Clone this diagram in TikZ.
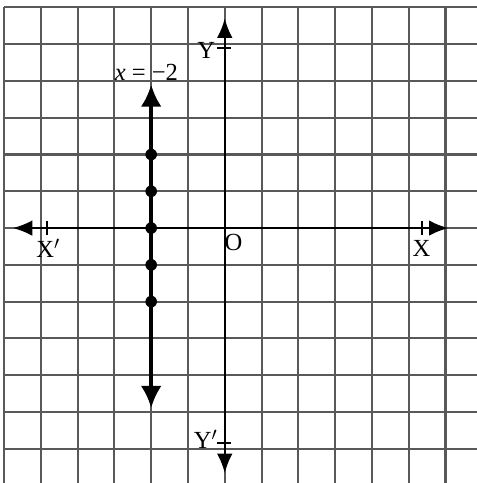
\documentclass[tikz,border=0pt]{standalone}
\usepackage{fontspec}
\setmainfont{Liberation Serif}
\usetikzlibrary{arrows.meta}
\begin{document}
\begin{tikzpicture}[
  gridline/.style={line width=1.6pt,color=black!65},
  axis/.style={line width=1.5pt,black,{Latex[length=15pt,width=12pt]}-{Latex[length=15pt,width=12pt]}},
  mainline/.style={line width=2.8pt,black,{Latex[length=17pt,width=16pt]}-{Latex[length=17pt,width=16pt]}},
  tick/.style={line width=1.5pt,black},
  lbl/.style={font=\fontsize{19}{22}\selectfont,inner sep=0pt},
  dot/.style={circle,fill=black,inner sep=0pt,minimum size=9pt}
]
\useasboundingbox (-6.11,-6.93) rectangle (6.85,6.2);
\fill[white] (-6.11,-6.93) rectangle (6.85,6.2);
\draw[gridline] (-6,-6.93) grid (6.85,6);
% axes
\coordinate (xl) at (-5.76,0);
\coordinate (xr) at (6.08,0);
\coordinate (yt) at (0,5.7);
\coordinate (yb) at (0,-6.66);
\draw[axis] (xl) -- (xr);
\draw[axis] (yb) -- (yt);
% ticks
\coordinate (t1a) at (-4.84,0.2); \coordinate (t1b) at (-4.84,-0.2);
\coordinate (t2a) at (5.35,0.2); \coordinate (t2b) at (5.35,-0.2);
\coordinate (t3a) at (-0.2,4.89); \coordinate (t3b) at (0.18,4.89);
\coordinate (t4a) at (-0.2,-5.84); \coordinate (t4b) at (0.18,-5.84);
\draw[tick] (t1a) -- (t1b);
\draw[tick] (t2a) -- (t2b);
\draw[tick] (t3a) -- (t3b);
\draw[tick] (t4a) -- (t4b);
% labels
\node[lbl] (Xp) at (-4.8,-0.56) {X$'$};
\node[lbl] (X) at (5.35,-0.56) {X};
\node[lbl] (Y) at (-0.5,4.84) {Y};
\node[lbl] (Yp) at (-0.52,-5.74) {Y$'$};
\node[lbl] (O) at (0.24,-0.38) {O};
\node[lbl] (eq) at (-2.13,4.22) {\textit{x} = −2};
% line x = -2
\coordinate (lt) at (-2,3.9);
\coordinate (lb) at (-2,-4.89);
\draw[mainline] (lb) -- (lt);
\node[dot] (d1) at (-2,2) {};
\node[dot] (d2) at (-2,1) {};
\node[dot] (d3) at (-2,0) {};
\node[dot] (d4) at (-2,-1) {};
\node[dot] (d5) at (-2,-2) {};
\end{tikzpicture}
\end{document}
